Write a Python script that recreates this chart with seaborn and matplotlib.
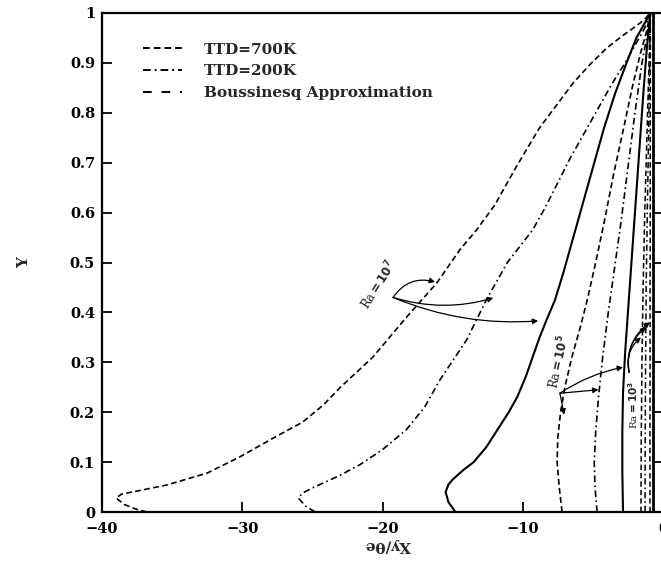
import numpy as np
import pandas as pd
import matplotlib
matplotlib.use("Agg")
import matplotlib.pyplot as plt
from matplotlib.lines import Line2D
import seaborn as sns

# ---- data ----
# Ra = 1e7
A_x = [-36.8, -37.6, -38.4, -39.0, -38.6, -37.5, -35.4, -32.5, -30.2, -27.8, -25.7, -24.2, -23.0, -20.7,
       -18.3, -16.1, -14.5, -13.3, -12.0, -10.5, -8.8, -7.6, -6.4, -5.2, -4.0, -3.0, -2.1, -1.4, -0.9]
A_y = [0.0, 0.006, 0.015, 0.028, 0.036, 0.042, 0.054, 0.078, 0.11, 0.148, 0.18, 0.215, 0.25, 0.31,
       0.39, 0.46, 0.525, 0.565, 0.615, 0.69, 0.77, 0.815, 0.86, 0.897, 0.93, 0.952, 0.97, 0.985, 1.0]
B_x = [-24.8, -25.5, -26.0, -25.7, -25.0, -23.0, -21.6, -20.0, -18.3, -17.0, -15.9, -14.0, -12.6, -11.1,
       -9.3, -8.4, -7.5, -6.6, -5.6, -4.6, -3.6, -2.7, -1.9, -1.3, -0.9]
B_y = [0.0, 0.012, 0.028, 0.038, 0.048, 0.074, 0.095, 0.125, 0.165, 0.21, 0.265, 0.345, 0.425, 0.50,
       0.565, 0.61, 0.66, 0.71, 0.76, 0.81, 0.86, 0.90, 0.94, 0.97, 1.0]
C_x = [-14.8, -15.3, -15.5, -15.3, -15.0, -14.2, -13.5, -12.6, -11.8, -11.0, -10.4, -9.8, -9.3, -8.8,
       -8.3, -7.7, -7.1, -6.5, -5.8, -5.0, -4.2, -3.4, -2.6, -1.9, -1.3, -0.9]
C_y = [0.0, 0.02, 0.04, 0.055, 0.065, 0.085, 0.10, 0.13, 0.165, 0.2, 0.23, 0.27, 0.31, 0.35,
       0.385, 0.425, 0.48, 0.54, 0.61, 0.69, 0.77, 0.84, 0.9, 0.95, 0.98, 1.0]
# Ra = 1e5
D_x = [-7.2, -7.4, -7.55, -7.5, -7.3, -7.0, -6.5, -5.9, -5.4, -4.8, -4.2, -3.5, -2.8, -2.2, -1.6, -1.2, -0.9]
D_y = [0.0, 0.05, 0.1, 0.15, 0.2, 0.25, 0.31, 0.37, 0.425, 0.5, 0.58, 0.68, 0.77, 0.85, 0.92, 0.96, 1.0]
E_x = [-4.7, -4.85, -4.9, -4.8, -4.6, -4.3, -3.9, -3.5, -3.0, -2.5, -2.0, -1.5, -1.1, -0.9]
E_y = [0.0, 0.05, 0.1, 0.16, 0.23, 0.31, 0.4, 0.48, 0.58, 0.69, 0.8, 0.9, 0.96, 1.0]
F_x = [-2.85, -2.9, -2.9, -2.85, -2.7, -2.5, -2.3, -2.0, -1.7, -1.4, -1.15, -0.9]
F_y = [0.0, 0.08, 0.16, 0.24, 0.32, 0.4, 0.48, 0.6, 0.72, 0.84, 0.93, 1.0]
# Ra = 1e3
G_x = [-1.57, -1.55, -1.5, -1.42, -1.3, -1.15, -1.0, -0.9]
H_x = [-1.28, -1.27, -1.24, -1.2, -1.12, -1.03, -0.95, -0.9]
I_x = [-0.93, -0.93, -0.92, -0.92, -0.91, -0.91, -0.9, -0.9]
GHI_y = [0.0, 0.15, 0.3, 0.45, 0.6, 0.75, 0.9, 1.0]
J_x = [-0.7, -0.7]
J_y = [0.0, 1.0]

legend_labels = ["TTD=700K", "TTD=200K", "Boussinesq Approximation"]
x_ticks = [-40, -30, -20, -10, 0]
y_ticks = [0, 0.1, 0.2, 0.3, 0.4, 0.5, 0.6, 0.7, 0.8, 0.9, 1]
y_ticklabels = ["0", "0.1", "0.2", "0.3", "0.4", "0.5", "0.6", "0.7", "0.8", "0.9", "1"]

# ---- styling ----
sns.set_theme(style="ticks")
plt.rcParams["font.family"] = ["DejaVu Serif"]
plt.rcParams["font.weight"] = "bold"

short_dash = (0, (3.5, 2.0))
dash_dot = (0, (4.0, 2.0, 1.0, 2.0))
bous_leg = (0, (4.5, 5.0))

fig = plt.figure(figsize=(6.61, 5.61), dpi=100)
ax = fig.add_axes([102 / 661, 49 / 561, 561 / 661, 499 / 561])

curves = [
    (A_x, A_y, short_dash, 1.2),
    (B_x, B_y, dash_dot, 1.2),
    (C_x, C_y, "-", 1.5),
    (D_x, D_y, short_dash, 1.2),
    (E_x, E_y, dash_dot, 1.2),
    (F_x, F_y, "-", 1.5),
    (G_x, GHI_y, short_dash, 1.1),
    (H_x, GHI_y, dash_dot, 1.1),
    (I_x, GHI_y, short_dash, 1.1),
    (J_x, J_y, "-", 2.0),
]
for cx, cy, ls, lw in curves:
    df = pd.DataFrame({"x": cx, "y": cy})
    sns.lineplot(data=df, x="x", y="y", sort=False, estimator=None, ax=ax,
                 color="black", linestyle=ls, linewidth=lw)

ax.set_xlim(-40, 0)
ax.set_ylim(0, 1)
ax.set_xticks(x_ticks)
ax.set_yticks(y_ticks)
ax.set_yticklabels(y_ticklabels)
ax.tick_params(axis="both", direction="in", length=7, width=1.3, labelsize=10.5, pad=5,
               colors="black")
ax.tick_params(axis="x", pad=7)
ax.tick_params(axis="y", right=True)
for lab in ax.get_xticklabels() + ax.get_yticklabels():
    lab.set_fontweight("bold")
for s in ax.spines.values():
    s.set_linewidth(1.6)
    s.set_color("black")
ax.set_xlabel("")
ax.set_ylabel("Y", fontsize=11, fontweight="bold", labelpad=28)
fig.text(388 / 661, 1 - 545 / 561, "Xy/θe", rotation=180, ha="center", va="center",
         fontsize=11, fontweight="bold")

# legend
handles = [Line2D([], [], color="black", lw=1.4, linestyle=short_dash),
           Line2D([], [], color="black", lw=1.4, linestyle=dash_dot),
           Line2D([], [], color="black", lw=1.4, linestyle=bous_leg)]
ax.legend(handles, legend_labels, loc="upper left", bbox_to_anchor=(0.048, 0.968),
          frameon=False, handlelength=2.6, handletextpad=1.4, labelspacing=0.5,
          prop={"family": "DejaVu Serif", "weight": "bold", "size": 11})

# annotations
ap = dict(arrowstyle="-|>", color="black", lw=0.9, mutation_scale=8, shrinkA=0, shrinkB=0)
ax.text(-20.3, 0.455, r"Ra$=10^7$", rotation=58, fontsize=8.5, fontweight="normal",
        ha="center", va="center")
s7 = (-19.25, 0.43)
ax.annotate("", xy=(-16.25, 0.461), xytext=s7, arrowprops=dict(ap, connectionstyle="arc3,rad=-0.35"))
ax.annotate("", xy=(-12.1, 0.429), xytext=s7, arrowprops=dict(ap, connectionstyle="arc3,rad=0.15"))
ax.annotate("", xy=(-8.9, 0.383), xytext=s7, arrowprops=dict(ap, connectionstyle="arc3,rad=0.12"))

ax.text(-7.45, 0.3, r"Ra$=10^5$", rotation=78, fontsize=8.5, fontweight="normal",
        ha="center", va="center")
s5 = (-7.35, 0.238)
ax.annotate("", xy=(-2.85, 0.29), xytext=s5, arrowprops=dict(ap, connectionstyle="arc3,rad=-0.1"))
ax.annotate("", xy=(-4.6, 0.245), xytext=s5, arrowprops=dict(ap, connectionstyle="arc3,rad=0.0"))
ax.annotate("", xy=(-7.05, 0.195), xytext=s5, arrowprops=dict(ap, connectionstyle="arc3,rad=0.0"))

ax.text(-2.12, 0.215, r"Ra$=10^3$", rotation=90, fontsize=7.5, fontweight="normal",
        ha="center", va="center")
s3 = (-2.42, 0.28)
ax.annotate("", xy=(-1.57, 0.35), xytext=s3, arrowprops=dict(ap, connectionstyle="arc3,rad=-0.3"))
ax.annotate("", xy=(-1.2, 0.37), xytext=s3, arrowprops=dict(ap, connectionstyle="arc3,rad=-0.3"))
ax.annotate("", xy=(-0.93, 0.38), xytext=s3, arrowprops=dict(ap, connectionstyle="arc3,rad=-0.3"))

fig.savefig("out.png", dpi=100)
